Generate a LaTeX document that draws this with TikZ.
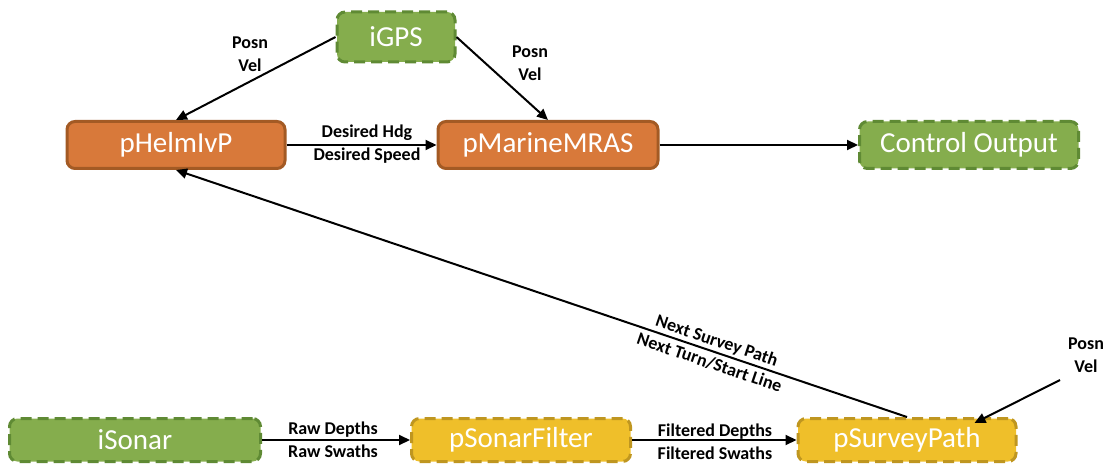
\documentclass[tikz,border=0pt]{standalone}
\usepackage{fontspec}
\setmainfont{Carlito}
\usetikzlibrary{arrows.meta}
\definecolor{orfill}{HTML}{D8793A}
\definecolor{ordraw}{HTML}{A35A24}
\definecolor{grfill}{HTML}{85AD4D}
\definecolor{grdraw}{HTML}{5F8A34}
\definecolor{yefill}{HTML}{EFBF2A}
\definecolor{yedraw}{HTML}{BF9620}
\tikzset{
  box/.style={rectangle, rounded corners=8pt, line width=3pt, text=white,
    font=\fontsize{29}{32}\selectfont, inner sep=0pt, minimum height=47pt},
  orbox/.style={box, fill=orfill, draw=ordraw},
  grbox/.style={box, fill=grfill, draw=grdraw, dash pattern=on 11pt off 6pt},
  yebox/.style={box, fill=yefill, draw=yedraw, dash pattern=on 11pt off 6pt},
  lbl/.style={font=\fontsize{18}{23}\selectfont\bfseries, align=center, inner sep=0pt},
  conn/.style={line width=2pt, -{Triangle[length=11pt,width=10pt]}}
}
\begin{document}
\begin{tikzpicture}[x=1pt,y=-1pt]
\useasboundingbox (0,0) rectangle (1107,465);
\node[grbox, minimum width=118pt, minimum height=50pt] (igps) at (396,37) {iGPS};
\node[orbox, minimum width=218pt] (helm) at (176,145) {pHelmIvP};
\node[orbox, minimum width=220pt] (mras) at (548,145) {pMarineMRAS};
\node[grbox, minimum width=219pt] (ctrl) at (969,145) {Control Output};
\node[grbox, minimum width=251pt, minimum height=43pt] (sonar) at (135,440) {iSonar};
\node[yebox, minimum width=219pt, minimum height=43pt] (filt) at (521,440) {pSonarFilter};
\node[yebox, minimum width=218pt, minimum height=43pt] (surv) at (907,440) {pSurveyPath};

\draw[conn] (igps.west) -- (helm.north);
\draw[conn] (igps.east) -- (mras.north);
\draw[conn] (helm.east) -- (mras.west);
\draw[conn] (mras.east) -- (ctrl.west);
\draw[conn] (sonar.east) -- (filt.west);
\draw[conn] (filt.east) -- (surv.west);
\draw[conn] (surv.north) -- node[pos=0.265, sloped, lbl] (nsp) {Next Survey Path\\Next Turn/Start Line} (helm.south);

\coordinate (pvstart) at (1060,380);
\coordinate (pvend) at ([xshift=-43pt,yshift=-6pt]surv.north east);
\draw[conn] (pvstart) -- (pvend);

\node[lbl] (l1) at (250,54) {Posn\\Vel};
\node[lbl] (l2) at (530,63) {Posn\\Vel};
\node[lbl] (l3) at (367,144) {Desired Hdg\\Desired Speed};
\node[lbl] (l4) at (1086,355) {Posn\\Vel};
\node[lbl] (l5) at (333,440) {Raw Depths\\Raw Swaths};
\node[lbl] (l6) at (715,442) {Filtered Depths\\Filtered Swaths};
\end{tikzpicture}
\end{document}
